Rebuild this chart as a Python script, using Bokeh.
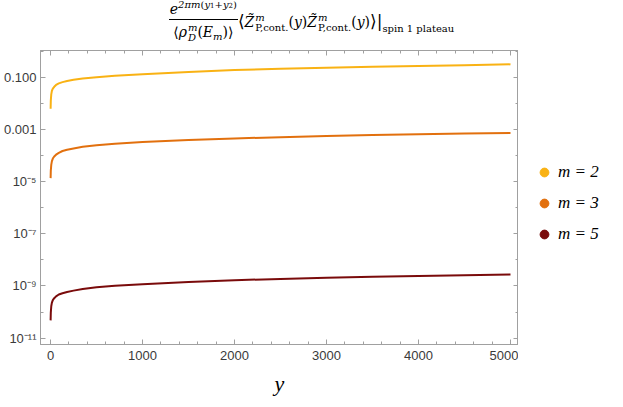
from bokeh.plotting import figure
from bokeh.models import (Range1d, FixedTicker, CustomJSTickFormatter, LinearAxis, LogAxis,
                          Legend, LegendItem, Div)
from bokeh.layouts import column, row
from bokeh.embed import file_html
from bokeh.resources import INLINE

# ---- data ----
xs = [1, 3, 8, 15, 25, 40, 60, 90, 130, 180, 250, 350, 500, 700, 1000,
      1500, 2000, 2500, 3000, 3500, 4000, 4500, 5000]
m2_vals = [6.17e-3, 1.26e-2, 2.19e-2, 3.02e-2, 3.63e-2, 4.27e-2, 5.01e-2, 5.75e-2,
           6.46e-2, 7.08e-2, 7.94e-2, 8.91e-2, 0.100, 0.112, 0.129,
           0.158, 0.186, 0.209, 0.229, 0.251, 0.269, 0.288, 0.309]
m3_vals = [1.35e-5, 2.63e-5, 4.37e-5, 6.03e-5, 7.59e-5, 9.12e-5, 1.07e-4, 1.26e-4,
           1.48e-4, 1.66e-4, 1.86e-4, 2.14e-4, 2.45e-4, 2.82e-4, 3.24e-4,
           3.89e-4, 4.47e-4, 5.01e-4, 5.50e-4, 6.03e-4, 6.46e-4, 6.92e-4, 7.24e-4]
m5_vals = [4.79e-11, 9.55e-11, 1.66e-10, 2.29e-10, 2.88e-10, 3.39e-10, 3.98e-10, 4.68e-10,
           5.25e-10, 5.89e-10, 6.61e-10, 7.59e-10, 8.91e-10, 1.02e-9, 1.17e-9,
           1.41e-9, 1.66e-9, 1.86e-9, 2.04e-9, 2.24e-9, 2.40e-9, 2.57e-9, 2.75e-9]
series_labels = ["m = 2", "m = 3", "m = 5"]
series_colors = ["#F9B214", "#E2700E", "#7A0B0B"]
x_major = [0, 1000, 2000, 3000, 4000, 5000]
x_minor = [v for v in range(0, 5001, 200) if v % 1000 != 0]
y_major = [1e-11, 1e-9, 1e-7, 1e-5, 1e-3, 1e-1]
y_minor = [1e-10, 1e-8, 1e-6, 1e-4, 1e-2, 1.0]

AXIS_COL = "#a0a0a0"
LABEL_COL = "#3a3a3a"
SANS = "Liberation Sans"
SERIF = "Liberation Serif"

FRAME_W, FRAME_H = 478, 294

p = figure(frame_width=FRAME_W, frame_height=FRAME_H, output_backend="svg", toolbar_location=None,
           y_axis_type="log",
           x_range=Range1d(-109, 5087), y_range=Range1d(5.7e-12, 1.05),
           min_border_left=30, min_border_right=0, min_border_top=6, min_border_bottom=52)
p.grid.visible = False
p.outline_line_color = AXIS_COL
p.background_fill_color = "white"
p.border_fill_color = "white"

line_renderers = []
for vals, col in zip([m2_vals, m3_vals, m5_vals], series_colors):
    line_renderers.append(p.line(xs, vals, line_color=col, line_width=2))

ytick_js = """
const e = Math.round(Math.log10(tick));
if (e === -1) return "0.100";
if (e === -3) return "0.001";
const sup = {"-":"\u207B","0":"\u2070","1":"\u00B9","2":"\u00B2","3":"\u00B3","4":"\u2074",
             "5":"\u2075","6":"\u2076","7":"\u2077","8":"\u2078","9":"\u2079"};
return "10" + String(e).split("").map(c => sup[c]).join("");
"""


def style_axis(ax, labels=True):
    ax.axis_line_color = AXIS_COL
    ax.major_tick_line_color = AXIS_COL
    ax.minor_tick_line_color = AXIS_COL
    ax.major_tick_in = 5
    ax.major_tick_out = 0
    ax.minor_tick_in = 3
    ax.minor_tick_out = 0
    if labels:
        ax.major_label_text_font = SANS
        ax.major_label_text_font_size = "13px"
        ax.major_label_text_color = LABEL_COL
        ax.major_label_standoff = 4
    else:
        ax.major_label_text_font_size = "1px"
        ax.major_label_text_alpha = 0
        ax.major_label_standoff = 0


xb = p.xaxis[0]
xb.ticker = FixedTicker(ticks=x_major, minor_ticks=x_minor)
style_axis(xb)
xb.major_label_standoff = 6
xb.axis_label = "y"
xb.axis_label_text_font = SERIF
xb.axis_label_text_font_style = "italic"
xb.axis_label_text_font_size = "22px"
xb.axis_label_text_color = "#000000"
xb.axis_label_standoff = 8

yl = p.yaxis[0]
yl.ticker = FixedTicker(ticks=y_major, minor_ticks=y_minor)
yl.formatter = CustomJSTickFormatter(code=ytick_js)
style_axis(yl)

xt = LinearAxis(ticker=FixedTicker(ticks=x_major, minor_ticks=x_minor))
style_axis(xt, labels=False)
p.add_layout(xt, "above")
yr = LogAxis(ticker=FixedTicker(ticks=y_major, minor_ticks=y_minor))
style_axis(yr, labels=False)
p.add_layout(yr, "right")

# ---- legend panel: a small axis-less figure holding circle glyphs for the legend ----
leg = figure(width=100, height=363, output_backend="svg", toolbar_location=None,
             x_range=Range1d(0, 1), y_range=Range1d(0, 1),
             min_border=0, outline_line_color=None)
leg.axis.visible = False
leg.grid.visible = False
dummies = [leg.scatter(x=[-10.0], y=[-10.0], marker="circle", fill_color=c, line_color=c, size=9)
           for c in series_colors]
legend = Legend(items=[LegendItem(label=l, renderers=[r]) for l, r in zip(series_labels, dummies)],
                location=(15, 108), border_line_color=None, background_fill_alpha=0,
                label_text_font=SERIF, label_text_font_style="italic",
                label_text_font_size="17px", label_text_color="#000000",
                glyph_width=22, glyph_height=22, spacing=9, padding=0, margin=0,
                label_standoff=3)
leg.add_layout(legend, "center")


def stack(sup, sub, size=10):
    return ('<span style="display:inline-flex;flex-direction:column;vertical-align:middle;'
            f'font-size:{size}px;line-height:{size}px;margin-left:1px;text-align:left;">'
            f'<span>{sup}</span><span>{sub}</span></span>')


ztil = '<i>Z\u0303</i>'
title_html = (
    '<div style="width:623px;text-align:center;font-family:\'DejaVu Serif\',serif;'
    'font-size:14px;color:#000;white-space:nowrap;line-height:1;padding-top:2px;">'
    '<span style="display:inline-flex;flex-direction:column;align-items:center;vertical-align:middle;">'
    '<span style="padding:0 1px 3px 1px;border-bottom:0.8px solid #000;"><i>e</i>'
    '<span style="font-size:10px;position:relative;top:-6px;"><i>2\u03c0m</i>(<i>y</i>'
    '<span style="font-size:7px;">1</span>+<i>y</i><span style="font-size:7px;">2</span>)</span></span>'
    '<span style="padding-top:3px;">\u27E8<i>\u03c1</i>' + stack('<i>m</i>', '<i>D</i>') +
    '(<i>E</i><span style="font-size:10px;position:relative;top:3px;"><i>m</i></span>)\u27E9</span>'
    '</span>'
    '<span style="font-size:17px;">\u27E8</span>' + ztil + stack('<i>m</i>', 'P,cont.') +
    '(<i>y</i>)' + ztil + stack('<i>m</i>', 'P,cont.') + '(<i>y</i>)'
    '<span style="font-size:17px;">\u27E9|</span>'
    '<span style="font-size:10px;position:relative;top:5px;">spin 1 plateau</span>'
    '</div>'
)
title = Div(text=title_html, width=623, height=44, margin=(0, 0, 0, 0))

layout = column(title, row(p, leg, spacing=0), spacing=0)
open("out.html", "w").write(file_html(layout, INLINE))
